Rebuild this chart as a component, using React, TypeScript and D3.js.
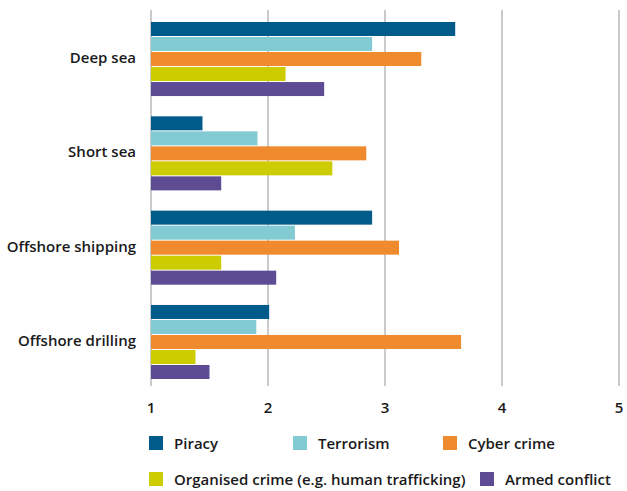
import React from "react";
import * as d3 from "d3";

const categories = ["Deep sea", "Short sea", "Offshore shipping", "Offshore drilling"];
const seriesNames = ["Piracy", "Terrorism", "Cyber crime", "Organised crime (e.g. human trafficking)", "Armed conflict"];
const seriesColors = ["#005b8a", "#82cbd3", "#f08a2e", "#cccc00", "#5d4c93"];
const piracy = [3.6, 1.44, 2.89, 2.01];
const terrorism = [2.89, 1.91, 2.23, 1.9];
const cyberCrime = [3.31, 2.84, 3.12, 3.65];
const organisedCrime = [2.15, 2.55, 1.6, 1.38];
const armedConflict = [2.48, 1.6, 2.07, 1.5];
const xTicks = [1, 2, 3, 4, 5];

const seriesValues = [piracy, terrorism, cyberCrime, organisedCrime, armedConflict];

const W = 627;
const H = 491;
const FONT = "'Open Sans', sans-serif";
const FS = 15;

export default function App() {
  const x = d3.scaleLinear().domain([1, 5]).range([151, 619]);
  const y = d3.scaleBand<string>().domain(categories).range([22, 379]).paddingInner(0.215).paddingOuter(0);
  const yInner = d3
    .scaleBand<string>()
    .domain(seriesNames)
    .range([0, y.bandwidth()])
    .paddingInner(1 / 15);

  const legendItems = [
    { i: 0, x: 149, y: 443 },
    { i: 1, x: 293, y: 443 },
    { i: 2, x: 443, y: 443 },
    { i: 3, x: 149, y: 479 },
    { i: 4, x: 480, y: 479 },
  ];

  return (
    <svg width={W} height={H} style={{ position: "absolute", left: 0, top: 0 }} fontFamily={FONT}>
      <rect width={W} height={H} fill="#fff" />
      {xTicks.map((t) => (
        <line key={"g" + t} x1={x(t)} x2={x(t)} y1={10} y2={386} stroke="#b8b8b8" strokeWidth={1.5} />
      ))}
      {categories.map((c, ci) => (
        <g key={c} transform={`translate(0,${y(c)})`}>
          {seriesNames.map((s, si) => (
            <rect
              key={s}
              x={x(1)}
              y={yInner(s)}
              width={x(seriesValues[si][ci]) - x(1)}
              height={yInner.bandwidth()}
              fill={seriesColors[si]}
            />
          ))}
          <text
            x={136}
            y={y.bandwidth() / 2 - 2}
            textAnchor="end"
            dominantBaseline="central"
            fontSize={FS}
            fontWeight={600}
            fill="#1a1a1a"
          >
            {c}
          </text>
        </g>
      ))}
      {xTicks.map((t) => (
        <text
          key={"t" + t}
          x={x(t)}
          y={407}
          textAnchor="middle"
          dominantBaseline="central"
          fontSize={FS}
          fontWeight={600}
          fill="#1a1a1a"
        >
          {t}
        </text>
      ))}
      {legendItems.map((l) => (
        <g key={l.i}>
          <rect x={l.x} y={l.y - 7} width={14} height={14} fill={seriesColors[l.i]} />
          <text x={l.x + 25} y={l.y} dominantBaseline="central" fontSize={FS} fontWeight={600} fill="#1a1a1a">
            {seriesNames[l.i]}
          </text>
        </g>
      ))}
    </svg>
  );
}
